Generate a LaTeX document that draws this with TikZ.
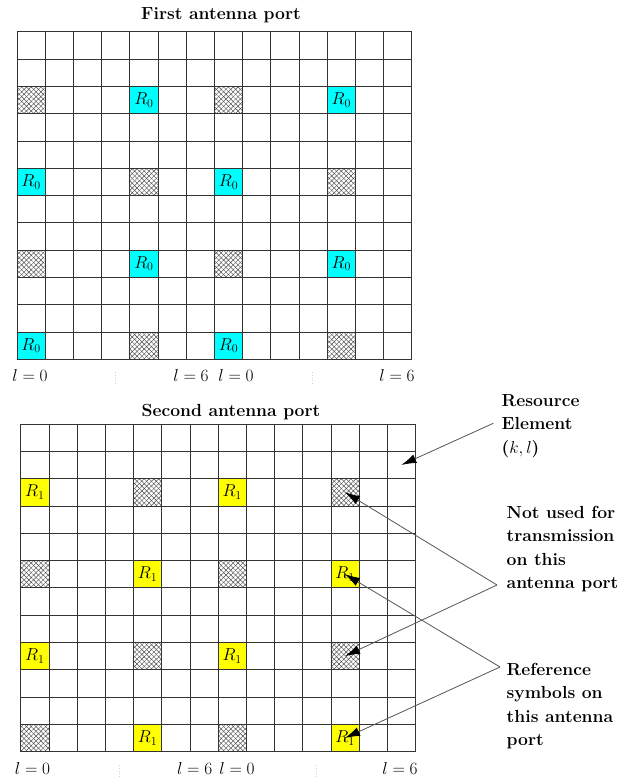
\documentclass[tikz,border=0pt]{standalone}
\usetikzlibrary{patterns.meta,arrows.meta}
\definecolor{rscyan}{HTML}{00FFFF}
\definecolor{rsyellow}{HTML}{FFFF00}
\definecolor{gridc}{HTML}{333333}
\definecolor{ptrc}{HTML}{555555}
\tikzset{
 gridline/.style={draw=gridc, line width=0.8pt},
 cellbox/.style={minimum width=28.2pt, minimum height=27.3pt, inner sep=0pt, outer sep=0pt, font=\fontsize{17}{17}\selectfont},
 rzero/.style={cellbox, fill=rscyan},
 rone/.style={cellbox, fill=rsyellow},
 hatchcell/.style={cellbox, pattern={Lines[angle=45,distance=3.4pt,line width=0.45pt]}, pattern color=black!70,
   postaction={pattern={Lines[angle=-45,distance=3.4pt,line width=0.45pt]}, pattern color=black!70}},
 titletext/.style={font=\bfseries\fontsize{17.5}{21}\selectfont, anchor=base, inner sep=0pt},
 lab/.style={font=\fontsize{17}{17}\selectfont, inner sep=0pt},
 note/.style={font=\bfseries\fontsize{17.5}{23.5}\selectfont, align=left, anchor=north west, inner sep=0pt},
 ptr/.style={draw=ptrc, line width=0.8pt, -{Latex[length=15pt,width=9pt,color=black]}},
 faint/.style={draw=black!18, dotted, line width=0.8pt}
}
\newcommand{\lval}[1]{$l=#1$}
\newcommand{\rsym}[1]{$R_{#1}$}
\begin{document}
\begin{tikzpicture}[x=1pt,y=-1pt]
\useasboundingbox (0,0) rectangle (619,777);

% ---------- First antenna port ----------
\node[titletext] (t1) at (221,19.5) {First antenna port};
\begin{scope}[shift={(17,31.7)}, x=28.2pt, y=-27.3pt]
  \foreach \r in {2,8} {
    \node[hatchcell] (A-\r-0) at (0.5,\r+0.5) {};
    \node[rzero] (A-\r-4) at (4.5,\r+0.5) {\rsym{0}};
    \node[hatchcell] (A-\r-7) at (7.5,\r+0.5) {};
    \node[rzero] (A-\r-11) at (11.5,\r+0.5) {\rsym{0}};
  }
  \foreach \r in {5,11} {
    \node[rzero] (A-\r-0) at (0.5,\r+0.5) {\rsym{0}};
    \node[hatchcell] (A-\r-4) at (4.5,\r+0.5) {};
    \node[rzero] (A-\r-7) at (7.5,\r+0.5) {\rsym{0}};
    \node[hatchcell] (A-\r-11) at (11.5,\r+0.5) {};
  }
  \foreach \i in {0,...,14} \draw[gridline] (\i,0) -- (\i,12);
  \foreach \j in {0,...,12} \draw[gridline] (0,\j) -- (14,\j);
\end{scope}
\node[lab] (a0) at (30,375.5) {\lval{0}};
\node[lab] (a6) at (191,375.5) {\lval{6}};
\node[lab] (b0) at (236,375.5) {\lval{0}};
\node[lab] (b6) at (397,375.5) {\lval{6}};
\draw[faint] (115.7,372) -- (115.7,385);
\draw[faint] (312.7,372) -- (312.7,385);

% ---------- Second antenna port ----------
\node[titletext] (t2) at (231,416.7) {Second antenna port};
\begin{scope}[shift={(20.7,424)}, x=28.2pt, y=-27.3pt]
  \foreach \r in {2,8} {
    \node[rone] (B-\r-0) at (0.5,\r+0.5) {\rsym{1}};
    \node[hatchcell] (B-\r-4) at (4.5,\r+0.5) {};
    \node[rone] (B-\r-7) at (7.5,\r+0.5) {\rsym{1}};
    \node[hatchcell] (B-\r-11) at (11.5,\r+0.5) {};
  }
  \foreach \r in {5,11} {
    \node[hatchcell] (B-\r-0) at (0.5,\r+0.5) {};
    \node[rone] (B-\r-4) at (4.5,\r+0.5) {\rsym{1}};
    \node[hatchcell] (B-\r-7) at (7.5,\r+0.5) {};
    \node[rone] (B-\r-11) at (11.5,\r+0.5) {\rsym{1}};
  }
  \coordinate (B-1-13) at (13.5,1.5);
  \foreach \i in {0,...,14} \draw[gridline] (\i,0) -- (\i,12);
  \foreach \j in {0,...,12} \draw[gridline] (0,\j) -- (14,\j);
\end{scope}
\node[lab] (c0) at (32.5,768.5) {\lval{0}};
\node[lab] (c6) at (194.7,768.5) {\lval{6}};
\node[lab] (d0) at (237,768.5) {\lval{0}};
\node[lab] (d6) at (400,768.5) {\lval{6}};
\draw[faint] (119,765) -- (119,777);
\draw[faint] (316.7,765) -- (316.7,777);

% ---------- Annotations ----------
\node[note] (resel) at (501.5,394) {Resource\\Element\\($k,l$)};
\node[note] (notused) at (506.5,506) {Not used for\\transmission\\on this\\antenna port};
\node[note] (refsym) at (506.5,663) {Reference\\symbols on\\this antenna\\port};

\coordinate (resel-from) at (493.3,423.3);
\coordinate (notused-from) at (497,585);
\coordinate (refsym-from) at (500,667);

\draw[ptr] (resel-from) -- (B-1-13);
\draw[ptr] (notused-from) -- (B-2-11.center);
\draw[ptr] (notused-from) -- (B-8-11.center);
\draw[ptr] (refsym-from) -- (B-5-11.center);
\draw[ptr] (refsym-from) -- (B-11-11.center);
\end{tikzpicture}
\end{document}
